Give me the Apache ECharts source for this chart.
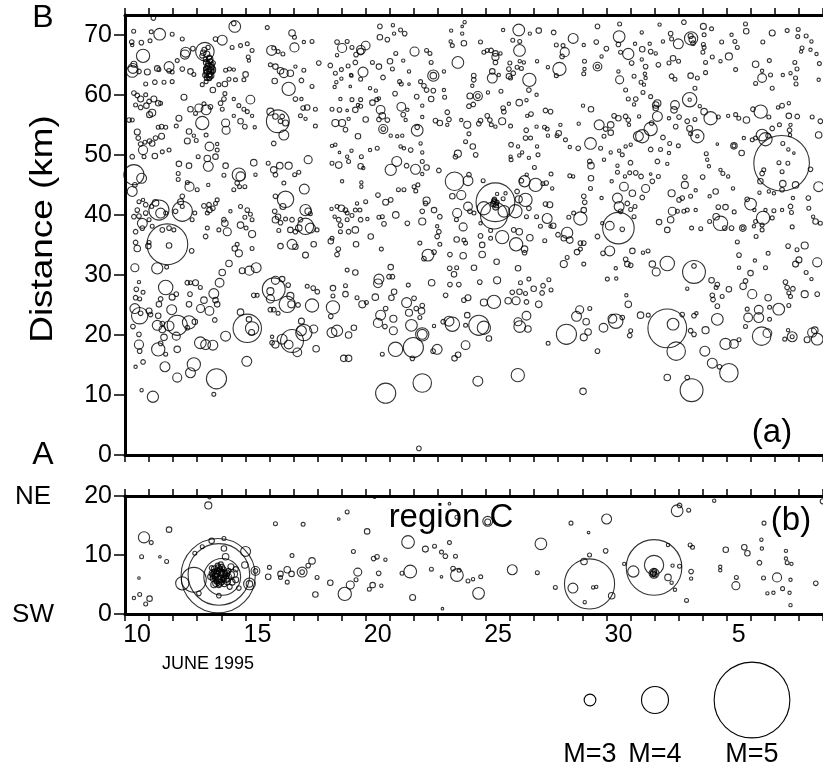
<!DOCTYPE html>
<html><head><meta charset="utf-8">
<script src="https://cdn.jsdelivr.net/npm/echarts@6/dist/echarts.min.js"></script>
<style>html,body{margin:0;padding:0;background:#fff}#c{width:823px;height:771px}</style>
</head><body><div id="c"></div>
<script>
// ---------- axes / labels ----------
const dayTicks = [10,11,12,13,14,15,16,17,18,19,20,21,22,23,24,25,26,27,28,29,30,31,32,33,34,35,36,37,38,39];
const dayLabelPos = [10.5,15.5,20.5,25.5,30.5,35.5];
const dayLabelText = ['10','15','20','25','30','5'];
const kmTicksA = [0,10,20,30,40,50,60,70];
const kmTicksB = [0,10,20];
const legendMags = [3,4,5];
const legendText = ['M=3','M=4','M=5'];

// ---------- events: [day (June 1995), distance km, magnitude] ----------
const eventsA_west = [
[11.18,72.8,1.9],[14.52,71.9,1.9],[14.56,71.4,3.0],[15.91,71.2,1.7],[10.36,70.6,1.7],[11.09,70.5,1.7],[11.44,70.1,3.0],[11.96,70.1,1.7],[12.38,69.3,1.7],[10.28,68.8,1.9],[10.30,68.3,1.5],[10.68,68.7,1.9],[11.04,69.0,1.7],[13.76,69.3,1.9],[14.04,69.1,2.8],[12.82,67.7,1.9],[12.52,67.1,2.8],[12.49,66.7,2.7],[13.32,67.2,3.55],[13.3,67.5,2.0],[13.4,66.8,2.2],[13.2,66.5,1.9],[13.45,67.9,1.8],[13.5,66.2,2.0],[13.35,65.9,1.9],[13.25,67.0,2.1],
[13.45,64.8,2.2],[13.5,64.3,2.0],[13.55,64.0,2.3],[13.4,63.8,2.0],[13.6,64.6,2.1],[13.5,63.4,2.2],[13.45,65.2,1.9],[13.55,65.6,2.0],[13.35,64.4,1.8],[13.65,63.9,1.9],[13.5,63.0,2.3],[13.4,62.8,2.0],[13.6,65.0,2.0],[13.5,64.5,2.7],[13.45,63.6,2.6],[13.38,65.4,2.2],[13.62,64.2,2.4],[13.42,64.1,2.5],[13.58,63.2,2.1],[13.52,65.9,2.3],[13.33,63.3,2.0],[13.66,65.3,1.9],
[14.45,67.9,1.7],[14.80,68.2,1.7],[15.08,68.5,1.7],[15.28,67.4,1.7],[15.12,66.3,1.7],[15.15,65.7,1.5],[16.09,67.4,2.8],[16.18,67.8,1.7],[16.36,67.2,1.7],[16.56,66.8,1.7],[16.94,70.3,2.3],[17.04,69.6,1.7],[17.04,67.9,2.7],[17.43,68.8,1.5],[17.77,68.9,1.7],[18.81,68.8,1.9],[19.02,67.8,2.7],[19.23,68.9,1.7],[19.43,67.9,1.7],[19.60,66.7,1.9],[18.81,66.6,1.5],
[10.75,66.5,3.15],[10.37,65.1,2.2],[10.33,64.4,2.8],[10.30,63.9,3.0],[10.58,63.9,1.9],[10.93,63.8,2.2],[11.34,64.4,2.1],[11.41,64.2,1.7],[11.83,64.7,2.8],[11.83,64.0,1.9],[11.96,63.8,1.7],[12.17,65.7,1.7],[12.38,64.3,1.9],[12.72,63.9,2.1],[12.86,63.4,1.7],[14.18,64.1,1.7],[14.34,64.3,1.7],[14.52,64.2,1.5],[15.01,63.4,2.1],[14.94,62.5,1.7],[16.04,65.0,1.7],[16.25,64.7,2.1],[16.46,64.0,2.3],[16.60,63.6,2.65],[16.87,63.6,2.3],[17.08,64.7,1.5],[17.43,64.1,1.7],[18.05,65.3,1.9],[18.53,64.9,1.9],[18.74,63.6,1.7],[18.99,64.2,1.7],[19.27,64.8,1.7],[19.39,63.3,1.5],[19.57,65.4,1.9],
[10.86,61.8,1.7],[11.24,62.1,1.9],[11.62,62.1,1.7],[11.96,62.2,1.7],[13.21,61.7,1.7],[13.37,62.2,1.7],[13.51,62.7,1.7],[13.65,60.8,2.1],[13.90,61.7,1.7],[14.15,61.8,2.1],[14.32,62.6,1.7],[14.59,62.5,1.7],[16.22,62.3,2.1],[16.80,61.0,3.15],[17.33,62.4,1.9],[17.77,61.4,1.7],[18.78,62.1,1.5],[18.99,62.7,1.5],[19.41,63.2,1.5],[18.71,61.3,1.5],[19.36,61.4,1.2],
[10.37,60.3,1.9],[10.51,59.9,1.9],[10.65,59.3,2.2],[10.86,60.0,1.7],[11.00,58.9,1.9],[11.20,59.3,2.2],[11.38,58.6,2.1],[11.48,58.6,1.7],[10.44,58.3,1.7],[10.65,57.9,1.9],[10.89,58.2,2.1],[11.13,57.0,2.4],[11.02,56.7,2.2],[10.30,55.8,1.7],[12.45,59.6,2.2],[12.72,57.6,2.1],[13.07,57.8,2.55],[13.37,57.5,2.8],[13.55,58.0,1.9],[13.28,58.5,1.7],[12.93,56.9,1.7],[13.21,55.3,3.15],[14.15,60.2,1.7],[14.11,59.3,1.9],[13.97,58.6,1.9],[14.04,57.6,1.7],[14.52,59.3,1.5],[14.73,58.2,1.7],[15.21,59.2,2.65],[14.94,57.6,1.7],[15.08,57.2,1.7],[15.28,56.5,1.5],[14.52,56.5,1.5],[14.18,55.3,2.55],[14.20,54.1,2.55],[14.80,55.6,2.1],[14.98,54.7,1.9],[15.39,54.6,1.5],
[16.04,57.2,2.4],[16.35,55.6,3.8],[16.25,56.4,2.1],[16.53,56.4,1.9],[16.46,55.6,1.9],[16.67,55.3,2.2],[16.60,53.3,2.8],[16.18,51.9,1.9],[17.08,59.3,1.9],[17.33,59.3,1.5],[17.40,57.8,1.9],[17.57,57.9,2.1],[17.91,57.6,1.7],[17.29,56.5,1.7],[17.50,56.0,1.5],[17.91,54.8,1.7],[18.60,57.6,1.7],[18.91,57.5,1.9],[19.23,57.4,1.2],[19.57,57.5,2.1],[19.68,58.3,1.5],[19.43,59.2,1.7],[18.95,59.3,1.5],[18.74,55.3,2.4],[19.02,55.3,2.4],[19.29,56.0,1.5],[19.16,54.2,1.9],[19.68,53.1,2.1],
[10.17,55.8,1.9],[10.51,53.8,2.2],[10.55,52.8,1.9],[10.65,51.8,1.9],[10.75,50.8,2.7],[10.83,52.1,1.7],[11.02,52.3,1.9],[11.13,51.9,2.1],[11.27,52.8,1.9],[11.52,53.1,2.2],[11.52,54.7,1.9],[11.69,54.6,1.7],[11.38,54.6,1.7],[12.24,56.1,2.2],[12.13,54.8,1.7],[12.66,53.9,2.1],[12.59,52.3,2.2],[12.86,53.2,1.5],[12.96,52.4,1.7],[13.37,53.3,1.7],[13.51,51.4,2.65],[13.83,51.8,1.5],[13.83,50.8,1.7],[13.76,49.7,2.1],[13.42,49.4,2.3],[13.46,48.1,2.8],[13.04,49.7,1.7],[12.66,48.2,2.1],[12.24,48.5,2.1],[12.21,46.9,1.7],[12.21,45.9,1.7],[11.24,49.8,2.1],[11.55,50.5,1.7],[11.83,50.8,1.7],[10.30,49.7,1.9],[10.79,49.7,1.7],[10.37,46.7,3.65],[10.69,46.1,2.8],[10.30,43.9,2.8],[10.41,45.0,1.9],
[14.18,48.2,2.1],[14.11,46.6,1.7],[14.73,46.7,3.15],[14.80,46.4,2.7],[14.66,45.3,1.9],[15.42,46.7,1.5],[15.35,48.7,2.3],[14.52,44.2,1.7],[14.76,44.7,1.7],[14.98,44.7,1.7],[15.95,48.6,1.7],[16.18,47.5,2.3],[16.43,48.2,2.3],[16.25,46.7,1.9],[16.80,48.2,2.4],[17.05,46.7,1.7],[17.22,47.1,1.7],[16.60,45.3,1.7],[17.45,44.3,2.8],[17.61,49.2,2.55],[18.60,48.6,1.7],[18.88,48.3,2.3],[19.29,48.9,1.7],[19.23,49.7,1.5],[19.02,45.6,1.5],[19.41,50.7,1.5],[18.91,50.4,1.2],[18.74,51.7,1.5],[18.60,51.5,1.5],
[12.68,44.7,2.7],[13.00,44.2,1.7],[13.46,45.0,1.5],[12.59,45.4,1.7],[12.38,43.1,1.9],[12.31,42.2,2.2],[12.38,40.6,3.65],[12.10,40.6,1.9],[12.38,41.4,1.7],[10.58,42.2,1.7],[10.75,42.5,1.5],[10.86,41.7,1.9],[11.11,41.4,1.7],[11.27,42.0,2.3],[11.41,40.8,3.65],[11.48,40.3,2.8],[11.69,40.3,1.7],[10.51,40.8,1.9],[10.58,39.8,1.9],[10.37,39.7,1.9],[10.86,40.3,1.9],[11.00,39.2,1.7],[10.72,38.6,2.8],[10.72,37.8,1.9],[10.44,37.2,1.9],[11.13,38.1,1.7],[11.55,37.5,1.9],[11.83,37.8,1.9],[12.03,37.5,1.7],[12.79,39.2,1.7],[12.90,40.3,1.7],
[13.28,41.5,1.9],[13.49,41.7,1.9],[13.51,40.8,2.1],[13.65,41.1,1.9],[13.76,41.9,1.7],[13.83,42.5,1.7],[13.42,40.3,1.7],[14.11,39.2,1.9],[14.15,38.6,2.3],[14.25,37.2,2.55],[13.90,37.5,1.7],[13.42,37.8,1.7],[13.35,36.4,1.9],[14.38,40.6,1.5],[14.80,41.4,1.7],[15.08,40.8,1.9],[15.21,40.1,1.7],[14.98,39.6,1.7],[15.28,39.2,1.7],[14.80,38.3,2.3],[15.03,37.8,1.7],[15.28,36.8,2.4],
[16.25,43.1,1.9],[16.67,42.6,3.4],[16.56,41.4,2.2],[16.22,40.6,1.9],[16.36,39.7,2.1],[16.25,39.2,2.3],[16.46,38.7,1.9],[16.67,39.3,1.7],[16.94,39.2,1.9],[16.87,37.5,2.1],[16.39,37.4,1.7],[17.22,37.8,2.3],[17.50,40.8,2.95],[17.61,40.6,2.3],[17.70,40.2,1.7],[17.50,38.1,3.4],[17.70,37.8,2.8],[17.98,37.5,1.7],[17.29,39.2,1.9],[17.08,37.2,1.9],
[18.58,41.0,1.5],[18.81,41.4,1.7],[18.99,41.1,2.3],[19.16,40.8,1.9],[19.23,40.3,1.7],[19.57,40.8,1.7],[19.64,41.9,1.5],[18.71,39.7,1.5],[18.88,39.2,1.9],[18.95,38.3,1.9],[19.23,39.2,1.7],[19.43,39.9,1.7],[18.95,37.2,1.7],[19.29,37.2,1.9],[19.57,37.5,2.3],[18.60,36.1,1.7],
[11.76,35.1,4.4],[10.51,34.4,2.3],[10.44,35.4,1.9],[10.97,34.8,2.1],[11.00,35.4,1.7],[11.83,34.9,2.1],[12.77,34.0,1.9],[10.41,31.2,2.55],[11.34,31.1,2.95],[11.73,31.3,1.7],[11.69,27.9,3.25],[10.58,28.8,1.5],[10.47,27.6,1.9],[10.44,26.2,1.9],[10.61,26.0,1.7],[10.75,27.1,1.7],[10.41,24.4,2.8],[10.61,23.2,3.4],[10.65,23.6,1.9],[11.00,24.0,2.2],[11.06,23.4,1.9],[11.41,25.1,2.1],[11.48,26.0,1.9],[11.96,26.3,2.2],[12.13,26.8,1.9],[11.94,24.2,2.8],[11.38,23.2,2.1],[11.34,21.6,2.8],[11.55,21.9,1.9],[11.83,21.5,2.8],[12.17,21.6,3.65],[12.66,22.1,3.15],[12.59,21.2,1.9],[12.90,22.2,2.1],
[12.59,28.7,1.9],[12.72,28.7,1.7],[12.93,28.7,2.2],[13.13,27.9,1.7],[12.70,26.8,1.9],[12.66,25.1,2.1],[13.14,24.4,2.55],[13.28,25.8,2.3],[13.51,24.0,2.65],[13.69,26.9,2.8],[13.76,25.8,2.1],[13.83,25.1,2.1],[13.93,28.7,2.65],[14.04,30.4,2.3],[14.32,31.9,2.3],[13.73,22.5,1.9],[13.13,18.7,3.0],[13.35,18.4,2.8],[13.65,18.3,2.8],[14.18,19.8,2.8],[12.13,19.8,2.55],[11.62,19.6,2.3],[11.55,20.9,2.3],[11.38,17.6,3.15],[11.69,16.8,1.7],[12.17,17.6,2.3],[11.48,18.6,1.9],[10.33,21.4,1.9],[10.58,20.1,1.9],[10.58,18.4,2.7],[10.61,17.3,1.9],[10.75,15.5,1.9],[10.44,14.7,1.5],[11.66,14.7,2.8],[12.17,12.9,2.7],[12.72,13.7,2.8],[12.86,15.1,3.15],[13.80,12.7,3.65],[13.69,10.1,1.7],[11.16,9.7,2.95],[10.69,10.8,1.5],
[14.80,23.8,2.3],[15.08,21.1,4.05],[15.28,21.1,3.15],[15.26,20.4,2.2],[15.15,22.6,2.1],[15.06,15.6,2.8],[14.56,34.4,2.1],[14.73,33.6,2.4],[14.66,35.1,1.7],[15.28,34.4,1.7],[14.87,30.7,2.2],[15.17,30.7,2.7],[15.45,31.2,2.8],[15.35,26.6,1.9],[15.49,26.6,1.7],[16.18,27.6,3.8],[16.04,27.3,2.4],[16.04,26.0,2.55],[16.25,29.1,2.55],[16.53,29.3,2.1],[16.74,25.1,3.4],[16.87,26.5,2.4],[16.91,25.1,2.4],[17.19,25.0,1.9],[16.78,28.3,1.9],[16.04,24.2,1.9],[16.18,24.2,1.9],[16.36,23.6,1.7],[17.57,28.1,1.7],[17.82,27.8,1.9],[17.99,27.2,1.9],[17.77,24.9,3.15],[17.33,22.3,2.2],[17.33,20.7,2.8],[17.43,20.4,3.4],[17.84,21.0,2.55],[16.94,19.0,3.8],[16.80,18.4,2.65],[16.53,19.3,2.8],[16.25,18.4,2.4],[16.11,18.7,1.9],[16.11,19.7,1.5],[17.16,17.1,2.65],[17.94,17.7,2.3],
[18.64,24.6,3.15],[18.55,23.1,1.9],[18.64,26.5,1.7],[18.64,27.8,2.1],[19.16,28.2,1.7],[19.16,26.8,2.1],[19.64,26.2,1.7],[19.57,30.4,2.1],[19.23,30.8,1.7],[18.60,20.4,2.8],[18.81,20.7,2.95],[19.29,20.0,2.3],[19.51,21.2,2.1],[19.09,16.1,2.3],[19.29,16.1,2.3],[19.60,35.1,2.1],[18.55,35.6,2.1],[18.86,34.3,1.9],[18.81,33.4,1.9],[16.94,35.1,2.8],[17.08,34.7,2.1],[16.46,34.8,2.1],[17.50,33.3,2.2],[17.84,35.1,2.1]
];

const eventsA_mid = [
[24.11,72.1,1.5],[24.01,71.4,1.2],[20.59,71.4,1.9],[21.13,71.6,1.5],[21.45,70.8,1.7],[21.62,70.2,1.9],[20.59,69.6,2.1],[20.90,69.2,1.9],[21.18,70.2,1.5],[20.00,68.2,2.65],[19.79,67.2,2.3],[19.8,67.5,2.65],[23.55,70.7,1.5],[24.01,70.2,1.5],[23.53,68.9,1.5],[23.60,68.2,1.7],[24.08,68.6,2.1],[23.83,65.4,3.0],[24.77,68.8,1.7],[25.71,70.8,1.5],[26.36,70.8,3.0],[26.82,70.2,1.5],[27.19,70.7,2.1],[27.81,70.4,1.9],[28.62,69.4,2.8],[29.06,68.3,1.5],[26.11,69.1,1.7],[26.40,68.9,1.7],[26.39,67.4,3.0],
[24.91,67.1,1.7],[25.05,67.4,1.7],[25.21,67.4,1.9],[25.39,66.9,2.1],[25.39,66.3,2.4],[25.60,66.9,1.5],[25.39,65.4,1.9],[25.99,65.3,1.7],[26.40,65.6,1.5],[26.57,65.4,1.5],[26.29,64.6,1.7],[25.95,64.3,1.9],[26.13,63.6,1.9],[26.47,64.4,1.7],[25.95,63.1,2.1],[26.02,62.8,1.7],[25.26,63.9,2.1],[25.26,62.8,2.8],[25.53,63.3,1.5],[26.80,62.5,3.15],[27.12,65.6,1.5],[27.57,64.6,1.5],[27.92,68.3,1.7],[28.20,68.2,1.7],[28.27,67.1,2.7],[28.16,66.4,1.9],[28.05,64.3,3.15],[27.92,63.2,1.7],[29.09,65.6,1.7],[29.09,64.3,1.5],[29.06,63.5,1.7],
[19.89,63.8,2.8],[19.79,62.6,1.7],[20.28,65.4,1.7],[20.55,64.7,2.1],[21.01,65.6,2.1],[21.11,64.3,1.7],[21.25,66.9,1.7],[21.56,65.7,1.5],[21.80,63.9,1.5],[20.72,62.9,1.9],[20.18,61.1,1.5],[20.42,60.7,1.5],[21.41,62.2,1.7],[21.48,61.8,1.7],[21.80,61.8,1.2],[22.03,67.2,2.7],[22.53,67.4,1.7],[22.67,66.9,1.7],[22.72,65.4,1.7],[22.81,63.2,2.95],[22.81,63.2,2.3],[23.25,63.9,1.5],[22.28,62.2,1.7],[22.42,61.5,1.9],[22.53,60.8,1.9],[22.81,60.7,1.9],[22.72,59.3,2.1],[22.12,59.7,1.9],[22.35,58.2,1.5],[23.25,60.8,1.5],[23.28,59.6,1.7],[21.22,60.2,1.9],[21.48,58.0,2.65],[21.73,57.5,1.5],[21.56,56.7,1.9],[21.66,55.8,1.5],
[20.28,58.7,2.1],[20.62,57.5,2.65],[20.69,56.5,2.3],[20.55,55.9,1.9],[20.90,55.8,1.9],[20.46,59.2,1.7],[20.55,59.4,1.5],[19.79,59.2,1.7],[19.79,58.1,1.7],[20.00,55.9,2.1],[20.73,54.3,2.7],[20.73,54.3,1.9],[22.14,54.1,3.0],[22.14,54.6,1.9],[22.35,56.3,1.5],[22.90,55.7,1.9],[23.08,55.3,2.1],[23.46,55.9,1.9],[23.39,57.1,1.9],[23.39,55.0,1.5],[24.22,55.0,2.4],[23.97,55.8,1.5],[24.29,53.5,1.7],[24.15,52.2,1.7],[24.45,51.4,2.1],[24.57,50.0,1.9],[23.83,50.2,2.4],[23.73,49.7,1.9],
[24.33,59.8,2.2],[24.66,59.8,2.7],[24.66,59.8,1.9],[24.47,58.4,1.9],[24.29,58.1,1.9],[24.49,63.2,1.9],[24.49,62.5,1.9],[24.43,61.5,1.5],[25.08,60.4,1.5],[25.62,60.6,1.7],[25.05,56.5,1.9],[24.77,55.7,1.9],[24.70,55.2,1.9],[25.16,55.8,1.9],[25.22,55.0,1.7],[25.67,55.6,2.4],[25.74,57.2,1.9],[25.71,57.8,1.9],[25.95,58.5,1.5],[26.38,58.7,2.3],[26.68,59.1,1.5],[27.10,60.0,1.5],[26.78,60.8,1.9],[26.87,56.8,1.9],[26.71,56.5,1.5],[26.02,54.8,1.7],[25.39,54.7,1.5],[26.67,54.1,1.9],[27.10,54.7,1.5],[27.47,57.4,1.9],[27.68,57.2,1.9],[27.43,54.6,1.7],[27.54,54.3,1.7],[27.57,53.2,1.5],[28.09,55.0,1.5],[28.02,53.6,2.1],[27.95,53.2,1.7],[28.30,52.5,1.7],[28.83,51.1,1.9],[28.48,51.3,1.5],[29.03,58.2,1.5],[29.36,57.6,2.1],[28.85,55.2,1.5],[29.34,51.9,3.0],[29.31,48.9,1.9],[29.36,48.2,2.3],
[26.64,52.8,1.9],[26.85,52.8,1.7],[26.04,51.7,1.9],[26.33,51.4,1.5],[26.38,49.9,1.5],[26.50,50.4,1.5],[27.12,51.4,1.5],[26.78,49.5,1.5],[26.02,49.7,1.5],[26.04,49.2,1.7],[27.16,50.0,1.7],[27.01,47.9,1.7],[27.70,46.8,1.7],[27.36,45.2,1.7],[27.50,45.3,1.9],[27.75,44.4,1.5],[27.06,45.0,3.15],[26.60,45.6,2.95],[26.47,45.7,1.9],[26.69,46.7,1.5],[26.29,43.9,1.9],[26.36,42.6,2.4],[26.64,42.5,3.15],[26.78,41.1,1.9],[26.68,39.7,1.7],[27.10,39.7,1.7],[27.47,41.8,1.9],[27.65,41.7,2.2],[27.54,39.4,2.8],[27.79,38.2,2.1],[27.99,36.7,1.9],[28.37,37.0,2.95],[28.92,39.4,3.15],[29.06,40.8,2.1],[29.10,42.1,1.9],[29.06,43.1,1.9],[28.64,40.3,1.7],[28.44,39.6,1.7],[28.48,46.5,1.7],[28.62,46.4,1.5],[29.36,46.1,2.1],[29.34,44.4,1.7],
[25.39,42.1,4.35],[25.37,42.0,2.3],[25.42,41.6,2.0],[25.33,42.3,2.0],[25.45,42.1,1.9],[25.30,41.8,2.1],[25.40,41.3,2.2],[25.35,42.6,1.8],[25.33,39.9,4.0],[24.91,41.1,3.15],[25.74,40.6,3.0],[26.22,40.6,3.15],[25.71,42.7,1.7],[25.46,43.5,1.5],[25.81,43.6,1.5],[24.25,41.4,2.65],[24.33,40.6,1.9],[24.50,40.3,1.7],[23.69,45.6,3.55],[24.25,45.7,2.8],[24.29,46.7,1.9],[24.88,45.7,1.7],[23.97,43.3,2.7],[23.60,43.1,2.1],[23.80,40.3,2.7],[23.77,39.2,1.7],[24.05,38.0,2.55],[24.77,38.6,1.5],[24.77,36.5,1.9],[25.19,37.4,1.7],[25.67,36.3,3.15],[26.15,37.5,1.9],[26.38,37.2,2.3],[27.26,38.1,1.7],[27.68,38.1,1.5],
[23.04,47.4,1.9],[22.53,42.4,2.4],[22.49,41.9,1.9],[22.84,40.8,2.1],[22.35,38.9,2.4],[23.08,39.7,1.9],[22.97,38.1,1.5],[23.04,37.2,1.9],[22.97,36.4,1.9],[21.73,38.6,1.9],[21.25,40.0,2.3],[20.69,39.7,1.7],[20.55,39.6,1.7],[20.76,38.5,1.9],[21.04,42.5,1.9],[20.83,42.1,2.2],[20.51,43.3,1.9],[20.00,42.2,1.7],[19.76,40.8,1.7],[20.07,39.3,1.5],[19.79,39.2,1.9],[20.21,36.4,2.1],[22.35,40.6,1.9],[22.08,44.0,1.7],[22.17,45.0,1.7],[22.01,44.7,1.7],[21.59,44.2,1.7],[21.36,44.2,1.7],[21.04,47.5,2.95],[21.29,48.9,2.8],[21.70,48.2,1.9],[22.07,47.6,2.8],[22.53,47.9,2.1],[22.35,46.8,1.5],[19.79,48.1,2.1],[19.90,47.8,1.5],[19.82,49.7,1.7],[20.18,50.8,1.5],[20.48,51.1,1.7],[21.45,51.4,1.5],[21.59,51.1,1.5],[21.87,50.8,1.9],[22.28,51.9,1.5],[22.35,50.4,1.5],[22.35,48.9,1.7],[21.04,53.2,1.5],[21.31,53.1,1.5],[21.52,53.2,1.5],[19.82,45.4,1.5],[19.82,44.7,1.5],
[22.25,35.3,1.7],[23.08,35.1,1.7],[23.78,35.9,2.1],[24.08,35.8,1.7],[24.15,35.3,1.7],[24.84,35.0,2.1],[25.19,36.1,1.7],[26.25,35.1,3.15],[26.60,34.3,2.3],[26.60,33.7,1.9],[26.82,36.2,2.3],[27.44,35.7,1.7],[28.23,36.1,2.1],[28.48,35.8,2.3],[28.92,35.3,1.9],[29.06,35.3,1.9],[28.78,33.8,2.1],[28.92,34.3,1.7],[28.37,32.9,1.7],[28.23,31.8,2.4],[29.06,31.8,1.7],[20.65,34.3,1.7],[22.59,33.3,3.0],[22.42,32.7,1.9],[22.84,33.8,1.9],[23.50,33.4,1.9],[24.05,33.2,2.3],[24.84,33.4,2.3],[24.50,31.2,2.1],[25.44,32.2,2.1],[26.33,31.1,2.1],[23.49,31.1,1.9],[23.78,31.2,1.7],[23.67,30.1,2.1],[21.04,31.3,2.1],[20.55,29.3,2.8],[20.51,28.6,2.65],[20.97,29.7,1.9],[21.11,29.7,1.9],[21.77,28.3,1.7],[22.74,28.7,2.3],[23.50,28.4,1.9],[23.87,28.4,1.9],[24.74,28.8,1.9],[25.46,29.1,2.4],[26.43,28.7,1.7],[26.78,29.3,1.7],[26.39,27.2,2.1],[26.98,27.7,2.1],[27.37,28.2,1.9],[27.61,29.2,1.7],[27.70,27.5,1.7],[27.33,27.0,1.9],[26.09,27.1,1.9],[26.64,26.9,1.7],
[19.86,25.1,2.4],[20.03,25.4,1.7],[20.40,26.3,2.3],[21.07,26.2,2.1],[21.18,27.2,2.1],[21.70,25.4,2.8],[22.01,26.1,1.9],[21.80,23.7,2.4],[22.10,24.4,1.9],[22.35,24.9,1.9],[22.32,24.0,2.3],[22.25,22.9,1.7],[20.62,23.3,2.8],[20.51,22.0,2.7],[20.83,24.4,1.9],[20.80,21.4,1.9],[21.15,22.7,2.4],[21.15,20.7,2.55],[21.90,21.6,3.0],[22.35,20.1,3.15],[22.35,20.1,2.8],[22.84,21.5,1.5],[23.32,26.6,1.9],[24.08,25.8,1.9],[24.25,26.2,2.2],[24.91,25.4,2.4],[25.33,25.5,3.15],[25.92,25.7,2.3],[26.25,25.7,2.55],[26.68,25.5,1.9],[27.19,25.1,2.3],[24.22,23.3,2.1],[23.22,22.2,1.9],[23.46,22.3,2.8],[23.60,21.8,3.25],[24.15,21.6,1.7],[24.70,21.6,3.65],[24.91,21.2,3.15],[25.12,19.4,2.1],[24.15,18.3,2.65],[22.97,17.6,2.8],[22.80,17.3,1.9],[23.69,16.1,2.1],[23.84,16.7,2.1],[21.24,17.6,3.25],[21.98,17.9,3.65],[21.94,16.1,1.9],[20.69,16.8,1.7],
[26.33,22.2,2.55],[26.40,21.4,3.0],[26.74,21.0,2.3],[26.68,23.2,2.65],[27.58,18.6,1.7],[28.34,20.1,3.65],[28.76,23.1,2.8],[28.89,24.2,2.55],[29.31,24.4,1.7],[29.16,22.2,2.3],[29.24,20.5,2.3],[29.06,19.6,2.4],[20.83,10.3,3.65],[22.35,12.0,3.55],[24.66,12.3,2.8],[26.32,13.3,3.15],[29.03,10.6,2.3],[22.21,1.1,1.9]
];

const eventsA_east = [
[29.63,71.4,1.9],[30.55,71.8,1.7],[30.53,69.7,3.0],[30.50,68.4,1.9],[30.91,66.8,2.95],[30.59,67.1,1.7],[30.00,67.7,1.9],[29.80,66.4,1.5],[29.58,68.8,1.9],[29.63,64.7,2.65],[29.63,64.7,1.7],[31.05,65.3,1.9],[31.49,67.6,2.1],[31.84,67.2,1.9],[32.05,66.9,1.5],[31.19,68.5,1.5],[31.47,70.4,1.5],[32.21,71.7,1.5],[31.80,68.5,1.5],[32.35,68.9,1.5],[32.67,70.2,1.9],[32.71,69.3,1.7],[32.99,68.5,2.8],[33.22,72.1,1.9],[33.52,69.4,3.15],[33.57,69.2,2.3],[33.5,69.8,2.0],[33.6,68.6,1.9],[34.03,71.4,2.2],[34.06,70.0,1.7],[34.03,68.4,1.7],[34.06,67.9,1.7],[34.01,67.1,1.7],[34.37,71.0,1.7],[34.79,68.8,1.7],[35.20,70.0,1.5],[35.34,68.9,1.7],[35.44,67.9,1.7],[35.78,71.8,1.7],[35.81,70.6,2.1],[36.50,68.8,1.7],[36.89,70.3,2.2],[37.51,70.7,1.7],[37.97,70.9,1.7],[37.95,69.7,1.7],[38.30,69.8,1.7],[38.52,68.9,1.5],[38.13,67.8,1.7],[38.48,67.5,1.5],[38.73,66.8,1.5],[38.09,67.2,1.5],
[35.09,66.4,2.4],[34.40,66.3,1.7],[34.12,65.4,1.7],[34.74,65.6,1.5],[35.37,64.2,1.7],[36.20,65.1,2.3],[36.77,65.7,1.7],[36.47,64.0,1.5],[36.47,62.8,2.65],[36.82,63.3,1.7],[36.20,61.9,1.7],[36.89,61.1,1.7],[37.33,63.3,1.5],[37.65,63.6,1.5],[37.83,65.4,1.7],[37.92,64.3,1.7],[37.86,62.8,1.7],[37.88,61.8,1.7],[38.85,65.2,1.7],[38.82,62.5,1.5],[31.47,65.9,1.5],[31.63,64.7,1.9],[31.60,63.5,1.5],[32.16,65.0,1.9],[32.60,65.3,1.7],[32.77,66.1,2.1],[33.00,65.6,1.7],[32.71,63.1,1.9],[32.85,62.6,1.7],[33.50,63.2,2.1],[33.78,62.8,1.7],[33.68,61.1,1.7],[34.12,63.7,1.7],[31.15,63.1,1.7],[30.55,62.5,2.55],[30.50,63.9,1.5],[31.44,62.1,1.7],[31.63,62.8,1.5],[31.56,61.7,1.5],
[31.22,59.3,1.9],[30.80,60.8,1.7],[30.91,59.3,1.7],[31.15,58.4,1.5],[31.52,60.4,1.7],[31.84,59.7,1.7],[32.05,58.3,2.3],[32.05,57.8,2.1],[32.85,58.3,2.65],[32.81,57.5,2.3],[33.46,59.2,3.25],[33.46,59.2,1.5],[33.88,58.1,1.5],[34.06,57.2,2.3],[34.33,56.1,3.15],[33.68,55.9,1.7],[33.36,55.6,1.9],[33.02,56.3,1.9],[32.60,56.1,1.5],[32.88,54.7,1.9],[33.46,54.4,2.2],[33.50,53.5,1.7],[33.78,53.1,3.15],[33.78,53.1,1.5],[34.65,56.3,1.7],[35.06,56.5,1.5],[35.37,56.7,1.7],[35.50,56.1,1.7],[35.82,55.8,2.3],[36.09,57.6,1.9],[36.41,57.2,3.15],[36.75,56.3,1.7],[37.13,57.9,1.5],[37.30,58.2,1.9],[37.58,58.6,1.5],[37.58,56.5,2.1],[37.93,56.4,1.9],[37.65,55.0,1.5],[37.19,55.0,1.7],[36.89,54.4,1.9],[36.72,53.2,1.9],[36.47,53.3,3.0],[36.61,52.6,3.15],[36.20,52.8,1.7],[36.06,52.5,1.7],[35.71,52.8,1.5],[37.61,54.1,1.9],[37.63,53.3,1.5],[38.55,56.3,1.7],[38.89,55.6,1.9],[38.82,53.3,2.3],
[37.28,48.6,4.7],[37.17,48.7,1.7],[37.54,48.6,1.7],[37.30,47.2,1.7],[37.79,50.3,1.2],[37.56,50.9,1.5],[37.33,51.9,1.7],[36.47,46.9,1.9],[36.54,47.5,1.7],[36.40,45.6,2.1],[37.33,45.2,2.3],[37.30,44.2,1.9],[37.86,45.0,2.3],[38.48,47.6,1.9],[38.82,44.7,2.8],[36.75,43.9,1.5],[36.36,43.7,1.5],[36.96,43.6,1.5],[35.99,41.8,3.0],[35.85,42.6,1.9],[36.15,40.8,1.5],[36.61,40.8,1.5],[36.96,40.7,1.7],[37.30,40.8,1.5],[37.65,41.4,1.9],[37.75,42.8,1.5],[38.39,42.8,1.9],[38.41,41.1,1.7],[38.69,38.9,2.1],[38.59,39.7,1.5],[38.89,38.6,1.7],[37.72,38.0,1.7],[37.69,40.4,1.7],[36.51,39.5,3.15],[36.47,38.3,1.7],[36.20,38.9,1.7],[36.89,39.5,1.7],[36.47,37.5,1.7],[36.13,38.1,1.5],[35.67,37.8,2.3],[35.67,37.8,1.5],[35.20,37.8,1.9],[34.92,37.8,1.9],[34.74,38.6,3.25],[34.56,39.7,2.3],[34.95,41.3,2.1],[34.65,41.3,1.9],[35.31,40.5,1.7],[34.29,38.9,1.7],[33.92,37.7,1.7],[33.54,37.8,1.7],[34.29,43.1,1.5],[34.54,43.9,2.1],[34.84,46.9,1.7],[34.74,47.5,1.5],[35.06,46.4,1.5],[34.0,46.3,1.9],
[33.26,45.0,2.4],[33.26,46.3,1.9],[32.71,43.6,2.4],[33.02,42.5,1.9],[33.15,42.8,1.9],[33.50,43.1,1.7],[33.71,44.1,1.5],[32.74,40.6,2.55],[32.67,39.2,2.3],[32.53,37.5,2.1],[32.95,40.6,1.7],[33.22,40.6,1.7],[33.36,40.8,1.7],[33.71,40.8,1.5],[32.19,38.8,2.1],[31.19,41.4,1.7],[31.15,39.7,1.7],[31.01,40.9,1.7],[30.87,41.9,1.9],[30.46,42.8,2.8],[30.53,41.4,2.8],[30.59,40.6,1.9],[30.73,44.7,2.65],[31.08,43.6,2.3],[31.49,42.9,1.9],[31.63,44.4,2.55],[31.91,45.6,1.9],[32.16,46.4,1.7],[31.44,46.4,1.9],[31.22,47.0,1.9],[30.97,47.0,1.7],[30.77,46.4,1.5],[30.22,45.6,1.5],[29.80,42.8,1.5],[30.50,37.8,4.15],[30.14,38.2,2.65],[30.66,37.6,1.9],[29.63,36.4,1.9],[32.12,48.9,1.9],[32.53,48.5,1.5],[31.84,46.8,1.2],[31.00,48.7,1.9],[30.46,48.2,1.5],[29.90,49.2,1.5],[30.18,50.4,1.5],[30.53,50.7,1.5],[30.66,50.0,1.7],
[31.33,53.1,2.8],[31.49,53.1,3.15],[31.84,54.3,3.15],[31.01,51.7,1.5],[30.80,51.4,1.5],[32.25,50.9,1.7],[31.84,50.9,1.9],[32.35,52.9,1.9],[32.63,51.9,1.7],[32.99,51.5,1.7],[32.12,56.4,2.8],[32.12,58.6,2.4],[31.88,55.3,1.9],[31.36,56.4,1.5],[30.91,55.8,1.9],[30.80,56.4,1.9],[30.94,55.0,1.5],[30.50,56.1,2.1],[30.32,56.5,1.9],[30.18,55.0,2.3],[29.70,55.0,2.8],[29.97,54.3,1.9],[30.18,53.7,2.1],[29.90,53.1,1.7],[29.76,51.1,1.7],[30.46,47.1,1.7],[32.60,50.3,1.5],[34.15,50.2,1.7],[34.19,49.2,1.5],[34.26,48.1,1.5],[34.61,51.8,1.2],[35.30,51.5,2.3],[35.30,51.5,1.7],[35.62,50.3,2.1],[29.83,38.6,1.5],[35.26,44.4,1.5],
[30.14,34.0,2.8],[29.86,33.6,1.9],[31.08,34.0,2.1],[30.80,32.6,1.9],[30.87,31.8,2.1],[31.01,31.6,1.9],[30.39,31.1,1.5],[31.52,33.7,1.5],[31.73,34.0,1.7],[31.91,31.8,2.3],[32.07,30.5,2.55],[32.53,31.9,3.25],[33.64,30.5,3.8],[33.64,31.5,1.9],[33.36,27.7,1.5],[30.04,29.3,1.7],[30.41,29.4,1.5],[34.37,29.1,2.1],[34.61,28.4,1.9],[34.56,27.9,1.7],[35.09,27.6,2.1],[34.81,26.4,1.7],[34.40,26.6,1.9],[34.43,25.9,1.9],[34.61,24.8,1.9],[35.44,35.5,1.7],[36.22,36.4,1.7],[35.51,33.3,1.9],[36.17,32.4,1.5],[36.72,33.6,1.7],[35.51,31.2,1.5],[35.99,30.3,2.1],[36.61,31.2,1.7],[35.78,29.0,1.9],[35.68,28.1,2.3],[36.06,26.8,2.7],[36.72,26.2,2.3],[36.78,24.6,1.7],[36.33,24.2,2.65],[37.16,24.3,3.0],[35.85,24.3,1.7],[35.89,22.9,2.65],[36.33,22.9,2.8],[36.78,22.6,1.7],[35.78,21.4,1.7],[36.45,19.8,3.55],[36.69,20.3,2.65],
[37.55,34.8,1.9],[37.86,31.8,2.2],[38.00,32.5,2.2],[38.24,34.9,2.4],[37.92,34.2,1.7],[38.30,30.4,1.7],[38.76,32.1,2.7],[38.52,29.3,1.5],[37.44,28.8,1.9],[37.51,27.9,1.9],[37.75,27.7,1.9],[37.58,27.0,1.7],[37.65,26.4,1.7],[38.24,26.8,2.4],[38.76,26.8,1.9],[37.58,24.9,1.7],[37.55,20.8,1.5],[37.72,19.7,2.8],[37.72,19.7,1.7],[37.41,19.3,1.7],[38.34,19.2,2.2],[38.55,20.4,2.7],[38.66,20.8,2.3],[38.76,19.3,3.0],[29.63,17.3,1.9],[29.88,21.2,2.65],[30.39,22.3,3.25],[30.25,22.7,2.65],[30.66,22.9,1.9],[31.01,20.7,1.7],[30.97,19.9,1.9],[30.91,25.1,2.3],[30.83,26.6,1.5],[31.42,23.3,2.3],[31.74,23.3,1.7],[32.53,21.1,4.35],[32.77,21.8,3.0],[33.15,23.4,1.9],[33.64,23.2,1.9],[33.74,23.6,1.5],[33.50,20.7,1.9],[33.64,20.1,1.9],[34.12,20.8,2.4],[34.61,22.6,3.0],[32.90,17.3,3.55],[34.09,17.3,2.8],[34.40,15.3,2.8],[34.70,14.7,1.9],[35.09,13.7,3.55],[34.95,18.5,2.95],[35.30,18.5,2.65],[35.51,19.2,1.7],[32.53,12.9,2.3],[33.36,12.9,1.9],[33.54,10.8,3.8]
];

const eventsB = [
[13.51,19.8,1.5],[13.46,18.4,2.4],[10.79,13.0,2.95],[11.09,12.1,1.7],[11.83,14.3,2.1],[10.69,9.7,1.7],[11.45,9.7,1.2],[11.73,8.9,1.7],[10.58,6.1,1.2],[10.37,2.7,1.5],[10.61,3.3,1.7],[10.86,1.7,1.7],[11.02,2.6,2.1],
[12.86,5.8,3.9],[12.38,5.2,3.15],[13.87,6.5,4.98],[13.90,6.7,4.8],[14.04,6.3,4.3],
[13.8,6.8,2.4],[13.9,6.2,2.6],[14.0,7.1,2.3],[13.85,5.8,2.5],[14.05,6.5,2.7],[13.75,6.4,2.2],[13.95,7.5,2.1],[14.1,6.0,2.2],[13.9,6.9,2.8],[13.8,5.5,2.0],[14.0,5.4,2.1],[13.7,7.2,2.0],[14.15,7.0,2.0],[13.95,6.4,3.0],[13.85,7.3,2.2],[14.2,6.4,2.1],[13.65,6.0,2.1],[14.1,7.6,1.9],[13.9,4.9,2.0],[14.25,5.5,2.3],[14.3,7.3,2.0],[14.4,8.0,2.2],[14.5,6.8,2.6],[14.6,5.8,2.2],[13.6,7.8,1.9],[13.7,5.0,2.3],[14.35,4.6,2.0],[14.6,7.6,2.0],
[13.75,6.9,2.6],[13.82,6.1,2.7],[13.97,5.9,2.5],[14.08,6.8,2.5],[13.88,7.8,2.3],[13.68,6.6,2.4],[14.02,7.9,2.2],[13.78,5.2,2.3],[14.18,5.9,2.4],[14.22,6.9,2.3],[13.93,5.3,2.4],[13.62,6.9,2.2],[14.12,5.1,2.1],[13.72,7.6,2.3],[14.28,6.2,2.5],[13.98,8.4,2.0],[13.55,6.3,2.1],[14.4,6.6,2.4],[14.45,5.4,2.2],[13.85,8.2,2.0],
[12.90,10.3,1.7],[13.21,11.4,1.7],[13.60,12.4,2.1],[14.11,12.8,1.7],[14.11,11.1,2.1],[14.18,9.7,2.3],[15.01,10.6,2.8],[14.98,8.3,2.3],[15.42,7.3,2.65],[15.42,7.3,1.9],[15.17,5.1,3.0],[15.17,5.1,2.3],[14.73,4.4,1.9],[13.90,3.1,1.9],[13.07,3.5,1.9],
[15.95,6.3,2.1],[16.00,7.9,1.7],[16.46,6.8,2.1],[16.46,6.2,1.7],[16.74,7.5,2.3],[16.92,6.8,2.1],[16.74,5.4,1.7],[16.94,9.9,1.7],[17.36,7.1,2.8],[17.36,7.1,1.9],[17.61,8.2,1.9],[17.77,9.0,2.3],[17.98,6.2,1.7],[17.91,3.3,2.1],[18.53,5.3,2.1],[16.25,15.3,1.7],[17.40,15.2,1.7],[18.88,16.1,1.2],[19.23,17.3,1.7],[19.13,3.4,3.15],[19.36,4.9,2.55],[19.60,5.8,1.7],[19.67,7.1,2.55],[19.49,10.6,1.7],[20.15,4.2,1.7],[20.29,4.9,2.1],[20.65,4.8,1.5],[20.54,6.9,1.9],[20.33,9.4,1.9],[20.47,9.7,1.9],[20.82,9.2,1.5],[20.06,14.0,2.1],[20.37,19.8,1.2],[21.76,12.2,3.1],[21.85,7.2,3.1],[21.51,6.9,1.7],[21.95,2.8,2.2],
[22.48,11.0,2.2],[22.86,11.5,1.7],[23.15,10.5,1.7],[23.31,9.8,1.9],[23.48,12.1,1.7],[23.73,9.8,1.7],[23.48,18.7,1.2],[23.79,16.4,1.7],[22.73,7.6,1.7],[23.15,6.3,1.2],[23.19,0.9,1.2],[23.63,7.7,1.9],[23.79,6.6,3.1],[23.88,7.4,1.7],[24.25,5.6,1.7],[24.46,5.9,1.5],[24.78,6.3,1.7],[24.69,3.5,3.0],[25.07,15.7,2.8],[25.07,15.6,2.2],[26.09,7.5,2.8],[27.13,7.0,1.7],[27.28,11.9,3.0],[27.88,4.5,1.7],[28.53,15.4,1.7],[28.61,4.4,2.8],[29.10,2.0,1.5],[29.07,8.9,2.3],[29.26,13.8,1.2],[29.30,10.0,1.7],[29.45,4.5,1.5],[29.58,4.6,1.5],[29.30,5.1,4.6],[30.01,16.1,2.8],[29.97,10.7,1.9],[30.22,3.1,2.3],[30.74,8.5,1.5],[31.12,7.2,2.95],
[31.98,7.9,4.7],[31.98,8.3,3.6],[31.98,6.9,2.8],[31.96,7.0,2.2],[32.01,6.7,2.0],[31.94,6.8,2.1],[32.0,7.3,1.9],[32.56,6.2,2.3],[32.71,5.3,1.5],[32.85,4.1,1.5],[32.75,8.2,1.5],[32.56,11.7,1.5],[33.04,8.1,1.7],[33.52,7.2,1.9],[33.52,6.0,1.5],[33.48,11.7,1.7],[33.58,11.3,1.7],[33.33,2.3,1.7],[32.94,17.5,3.0],[33.04,18.4,1.9],[33.42,17.6,1.7],[34.48,19.2,1.5],[34.96,10.9,2.1],[34.73,8.0,1.5],[34.73,7.4,1.5],[35.40,6.2,1.7],[35.38,4.8,2.55],[35.73,11.3,2.1],[35.86,10.3,2.1],[36.36,8.7,1.9],[36.46,11.1,1.5],[36.44,12.6,1.5],[36.55,15.4,1.7],[36.53,6.1,1.7],[36.69,3.5,1.5],[36.94,3.6,1.5],[37.09,6.2,2.7],[37.32,4.3,1.7],[37.46,10.7,1.5],[37.46,9.4,1.5],[37.51,8.7,1.7],[37.69,8.5,1.5],[37.65,5.8,1.5],[37.61,3.6,1.5],[37.65,1.5,1.5],[38.70,5.2,1.9],[38.99,19.1,2.0]
];

// ---------- rendering ----------
const FONT = '"Liberation Sans", Arial, Helvetica, sans-serif';
function sizeOf(m) {
  return m <= 4 ? 11.7 * Math.pow(10, 0.363 * (m - 3)) : 27 * Math.pow(10, 0.448 * (m - 4));
}
const chart = echarts.init(document.getElementById('c'), null, {renderer: 'canvas'});
const black = '#000';

function xAxisCfg(gridIndex, position, showLabels) {
  return {
    type: 'value', gridIndex, position, min: 10, max: 39, z: 10,
    axisLine: {show: true, onZero: false, lineStyle: {color: black, width: 3}},
    axisTick: {show: true, inside: false, length: 7, customValues: dayTicks, lineStyle: {color: black, width: 1.5}},
    axisLabel: {
      show: showLabels, customValues: dayLabelPos, margin: 9, color: black, fontSize: 25, fontFamily: FONT,
      formatter: v => { let best = 0; dayLabelPos.forEach((p, i) => { if (Math.abs(p - v) < Math.abs(dayLabelPos[best] - v)) best = i; }); return dayLabelText[best]; }
    },
    splitLine: {show: false}
  };
}
function yAxisCfg(gridIndex, max, ticks) {
  return {
    type: 'value', gridIndex, position: 'left', min: 0, max, z: 10,
    axisLine: {show: true, onZero: false, lineStyle: {color: black, width: 3}},
    axisTick: {show: true, inside: false, length: 11, customValues: ticks, lineStyle: {color: black, width: 1.5}},
    axisLabel: {show: true, customValues: ticks, margin: 13, color: black, fontSize: 25, fontFamily: FONT},
    splitLine: {show: false}
  };
}
function scatter(name, xi, yi, data) {
  return {
    name, type: 'scatter', xAxisIndex: xi, yAxisIndex: yi, data,
    symbol: 'circle', symbolSize: v => sizeOf(v[2]),
    itemStyle: {color: 'rgba(0,0,0,0)', borderColor: black, borderWidth: 1.1},
    emphasis: {disabled: true}, silent: true, animation: false, large: false
  };
}

const legendGraphics = [];
const legendX = [590, 655, 752];
legendMags.forEach((m, i) => {
  legendGraphics.push({type: 'circle', shape: {cx: legendX[i], cy: 700, r: sizeOf(m) / 2},
    style: {fill: 'none', stroke: black, lineWidth: 1.1}});
  legendGraphics.push({type: 'text', x: legendX[i], y: 755,
    style: {text: legendText[i], fill: black, font: '27px ' + FONT, align: 'center', verticalAlign: 'middle'}});
});
function label(text, x, y, size, extra) {
  return Object.assign({type: 'text', x, y, style: {text, fill: black, font: size + 'px ' + FONT, align: 'center', verticalAlign: 'middle'}}, extra || {});
}

chart.setOption({
  animation: false,
  backgroundColor: '#fff',
  grid: [
    {left: 125, top: 15, width: 698, height: 440},
    {left: 125, top: 496, width: 698, height: 118}
  ],
  xAxis: [xAxisCfg(0, 'bottom', false), xAxisCfg(0, 'top', false), xAxisCfg(1, 'bottom', true), xAxisCfg(1, 'top', false)],
  yAxis: [yAxisCfg(0, 73.3, kmTicksA), yAxisCfg(1, 20, kmTicksB)],
  series: [
    scatter('A west', 0, 0, eventsA_west),
    scatter('A mid', 0, 0, eventsA_mid),
    scatter('A east', 0, 0, eventsA_east),
    scatter('B', 2, 1, eventsB)
  ],
  graphic: [
    label('B', 43, 18, 32),
    label('A', 43, 455, 32),
    label('NE', 33, 497, 26),
    label('SW', 33, 615, 26),
    label('Distance (km)', 43, 229, 31, {rotation: Math.PI / 2, scaleX: 1.19}),
    label('(a)', 772, 433, 33),
    label('(b)', 791, 521, 33),
    label('region C', 451, 518, 33),
    label('JUNE 1995', 208, 664, 18)
  ].concat(legendGraphics)
});
</script>
</body></html>
